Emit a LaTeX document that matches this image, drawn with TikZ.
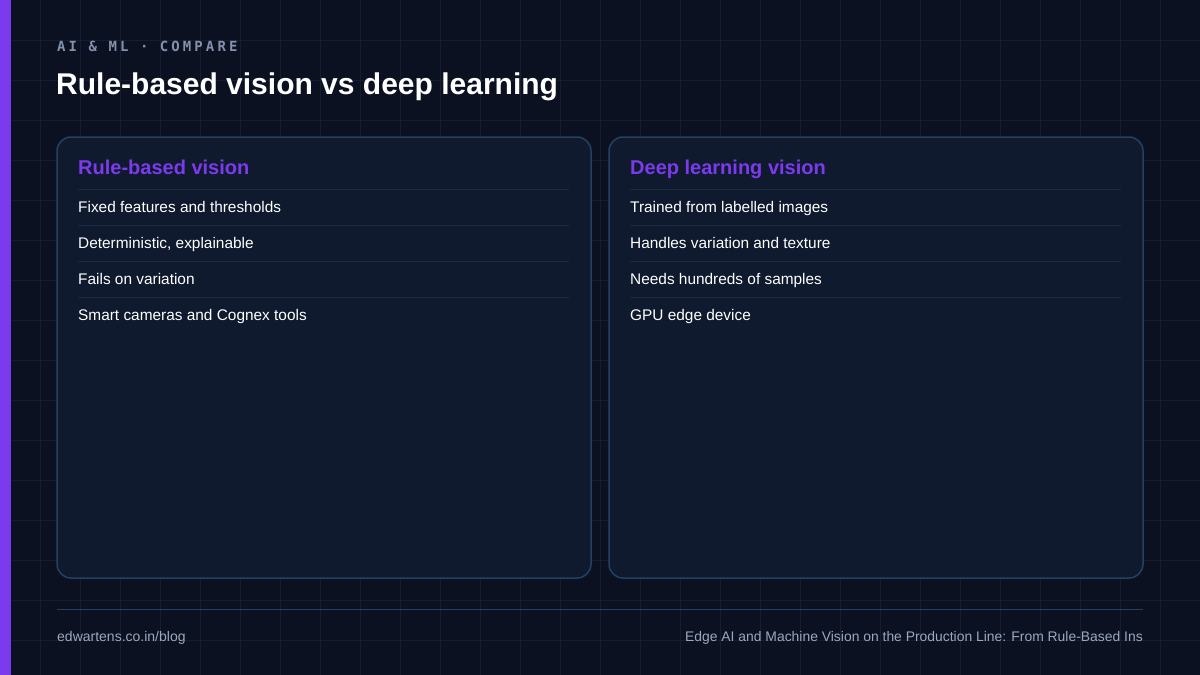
\documentclass[tikz,border=0pt]{standalone}
\usepackage{fontspec}
\setmainfont{Liberation Sans}
\newfontfamily\monof[LetterSpace=22]{DejaVu Sans Mono}
\definecolor{bg}{HTML}{0B1120}
\definecolor{gridc}{HTML}{151E30}
\definecolor{cardfill}{HTML}{0F1A2E}
\definecolor{cardline}{HTML}{26405F}
\definecolor{sepc}{HTML}{1C2A40}
\definecolor{accent}{HTML}{7C3AED}
\definecolor{muted}{HTML}{8391AC}
\definecolor{foot}{HTML}{9AA8C0}
\begin{document}
\begin{tikzpicture}[x=1pt,y=-1pt,
  card/.style={draw=cardline,line width=1.5pt,fill=cardfill,rounded corners=14pt},
  ctitle/.style={anchor=base west,text=accent,font=\bfseries\fontsize{20}{24}\selectfont,inner sep=0},
  item/.style={anchor=base west,text=white,font=\fontsize{15.4}{18}\selectfont,inner sep=0},
  sep/.style={draw=sepc,line width=0.8pt}]
\fill[bg] (0,0) rectangle (1200,675);
\useasboundingbox (0,0) rectangle (1200,675);
\foreach \x in {40,80,...,1160} \draw[gridc,line width=0.6pt] (\x,0) -- (\x,675);
\foreach \y in {40,80,...,640} \draw[gridc,line width=0.6pt] (0,\y) -- (1200,\y);
\fill[accent] (0,0) rectangle (11,675);
\node[anchor=base west,inner sep=0,text=muted,font=\monof\bfseries\fontsize{14}{16}\selectfont] (kick) at (57,51) {AI \& ML · COMPARE};
\node[anchor=base west,inner sep=0,text=white,font=\bfseries\fontsize{30}{34}\selectfont] (title) at (56,94) {Rule-based vision vs deep learning};
\foreach \cx/\nm in {57/L,609/R}{
  \draw[card] (\cx,137) rectangle (\cx+534,578);
  \foreach \sy in {189,225,261,297} \draw[sep] (\cx+21,\sy) -- (\cx+512,\sy);
}
\node[ctitle] (lt) at (78,174) {Rule-based vision};
\node[item] (l1) at (78,212) {Fixed features and thresholds};
\node[item] (l2) at (78,248) {Deterministic, explainable};
\node[item] (l3) at (78,284) {Fails on variation};
\node[item] (l4) at (78,320) {Smart cameras and Cognex tools};
\node[ctitle] (rt) at (630,174) {Deep learning vision};
\node[item] (r1) at (630,212) {Trained from labelled images};
\node[item] (r2) at (630,248) {Handles variation and texture};
\node[item] (r3) at (630,284) {Needs hundreds of samples};
\node[item] (r4) at (630,320) {GPU edge device};
\draw[cardline,line width=1pt] (57,609) -- (1143,609);
\node[anchor=base west,inner sep=0,text=foot,font=\fontsize{14}{16}\selectfont] (fl) at (57,641) {edwartens.co.in/blog};
\node[anchor=base east,inner sep=0,text=foot,font=\fontsize{13.9}{16}\selectfont] (fr) at (1143,641) {Edge AI and Machine Vision on the Production Line: From Rule-Based Ins};
\end{tikzpicture}
\end{document}
